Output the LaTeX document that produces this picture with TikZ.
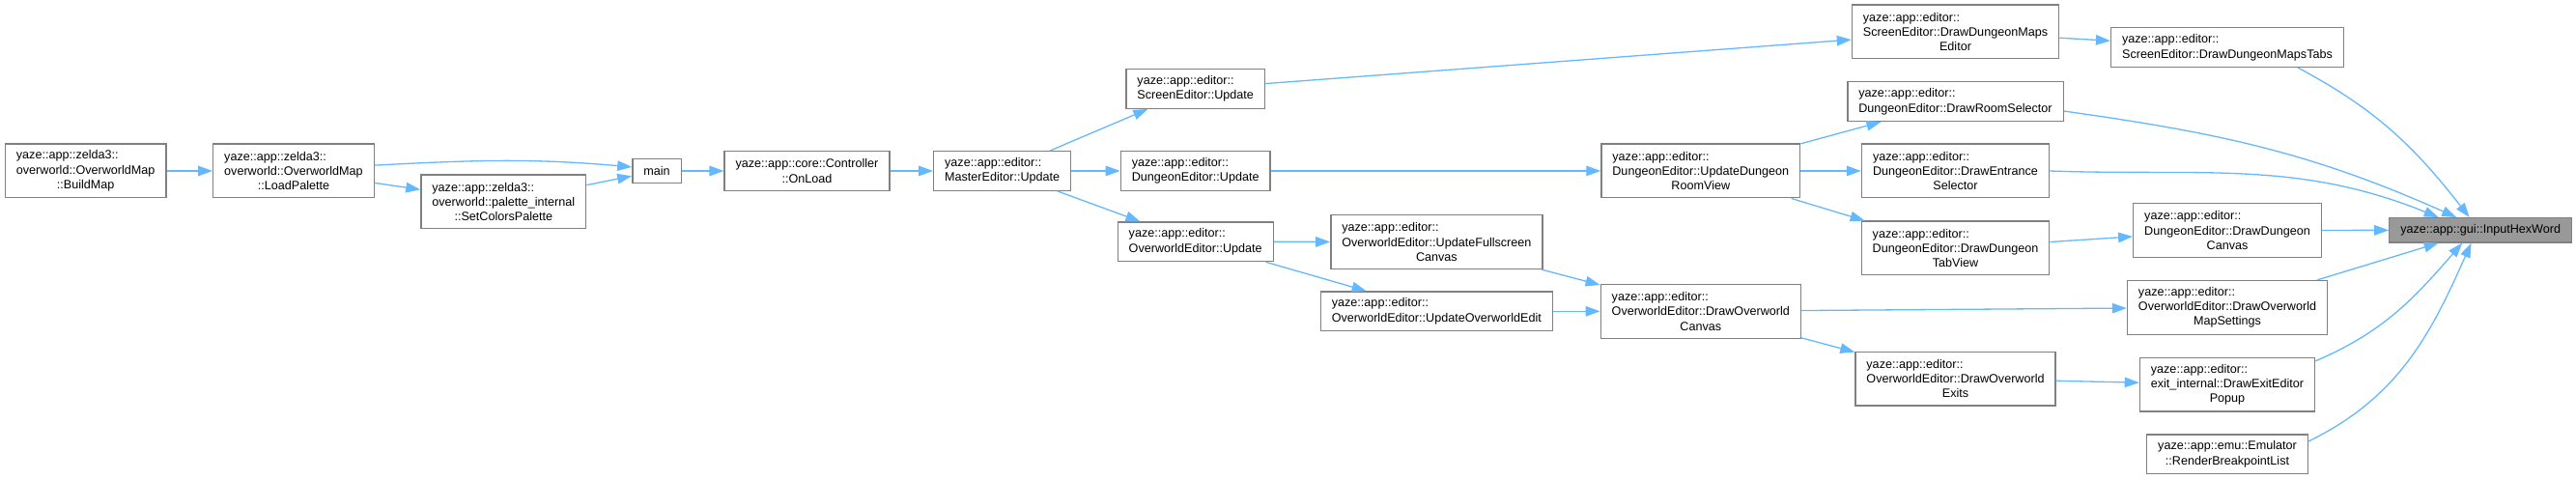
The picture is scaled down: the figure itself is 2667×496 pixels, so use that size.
\documentclass[tikz,border=0pt]{standalone}
\usepackage{fontspec}
\setmainfont{Liberation Sans}
\usetikzlibrary{arrows.meta}
\definecolor{edgecol}{HTML}{63B8FF}
\definecolor{linecol}{HTML}{808080}
\definecolor{focuscol}{HTML}{999999}
\newcommand{\lastln}[1]{\hfill#1\hfill\null}
\begin{document}
\begin{tikzpicture}[x=1pt,y=1pt,
  func/.style={draw=linecol,line width=1.3pt,fill=white,align=left,inner xsep=11.5pt,inner ysep=0pt,minimum height=#1,font=\fontsize{12.6}{15.3}\selectfont},
  func/.default=40.7,
  focus/.style={func=25.3,fill=focuscol},
  call/.style={-{Triangle[length=15pt,width=10.5pt]},draw=edgecol,line width=1.3pt}]
  \useasboundingbox (0,0) rectangle (2667,496);
  \node[func=55.7] (bm) at (88.7,319) {yaze::app::zelda3::\\overworld::OverworldMap\\\lastln{::BuildMap}};
  \node[func=55.7] (lp) at (304,319) {yaze::app::zelda3::\\overworld::OverworldMap\\\lastln{::LoadPalette}};
  \node[func=55.7] (scp) at (521.3,287) {yaze::app::zelda3::\\overworld::palette\_internal\\\lastln{::SetColorsPalette}};
  \node[func=25.3] (main) at (680,319) {main};
  \node[func] (onl) at (835.5,319) {yaze::app::core::Controller\\\lastln{::OnLoad}};
  \node[func] (meu) at (1037.7,319) {yaze::app::editor::\\MasterEditor::Update};
  \node[func] (seu) at (1237.7,404) {yaze::app::editor::\\ScreenEditor::Update};
  \node[func] (deu) at (1237.7,319) {yaze::app::editor::\\DungeonEditor::Update};
  \node[func] (oeu) at (1237.7,245.7) {yaze::app::editor::\\OverworldEditor::Update};
  \node[func=55.7] (ufc) at (1487.4,245.5) {yaze::app::editor::\\OverworldEditor::UpdateFullscreen\\\lastln{Canvas}};
  \node[func] (uoe) at (1487.4,173.7) {yaze::app::editor::\\OverworldEditor::UpdateOverworldEdit};
  \node[func=55.7] (doc) at (1760.8,173.7) {yaze::app::editor::\\OverworldEditor::DrawOverworld\\\lastln{Canvas}};
  \node[func=55.7] (urv) at (1760.8,319) {yaze::app::editor::\\DungeonEditor::UpdateDungeon\\\lastln{RoomView}};
  \node[func=55.7] (ddme) at (2024.5,463) {yaze::app::editor::\\ScreenEditor::DrawDungeonMaps\\\lastln{Editor}};
  \node[func] (drs) at (2024.5,390.8) {yaze::app::editor::\\DungeonEditor::DrawRoomSelector};
  \node[func=55.7] (des) at (2024.5,319) {yaze::app::editor::\\DungeonEditor::DrawEntrance\\\lastln{Selector}};
  \node[func=55.7] (dtv) at (2024.5,239) {yaze::app::editor::\\DungeonEditor::DrawDungeon\\\lastln{TabView}};
  \node[func=55.7] (doe) at (2024.5,104) {yaze::app::editor::\\OverworldEditor::DrawOverworld\\\lastln{Exits}};
  \node[func] (ddmt) at (2306,446.8) {yaze::app::editor::\\ScreenEditor::DrawDungeonMapsTabs};
  \node[func=55.7] (ddc) at (2306,257.5) {yaze::app::editor::\\DungeonEditor::DrawDungeon\\\lastln{Canvas}};
  \node[func=55.7] (doms) at (2306,177.7) {yaze::app::editor::\\OverworldEditor::DrawOverworld\\\lastln{MapSettings}};
  \node[func=55.7] (deep) at (2306,97.8) {yaze::app::editor::\\exit\_internal::DrawExitEditor\\\lastln{Popup}};
  \node[func] (rbl) at (2306,25.7) {yaze::app::emu::Emulator\\\lastln{::RenderBreakpointList}};
  \node[focus] (ihw) at (2568.2,257.7) {yaze::app::gui::InputHexWord};
  \draw[call] (bm) -- (lp);
  \draw[call] (lp.4) to[out=3,in=175] (main.171);
  \draw[call] (lp) -- (scp);
  \draw[call] (scp) -- (main);
  \draw[call] (main) -- (onl);
  \draw[call] (onl) -- (meu);
  \draw[call] (meu) -- (seu);
  \draw[call] (meu) -- (deu);
  \draw[call] (meu) -- (oeu);
  \draw[call] (seu) -- (ddme);
  \draw[call] (deu) -- (urv);
  \draw[call] (oeu) -- (ufc);
  \draw[call] (oeu) -- (uoe);
  \draw[call] (ufc) -- (doc);
  \draw[call] (uoe) -- (doc);
  \draw[call] (urv) -- (drs);
  \draw[call] (urv) -- (des);
  \draw[call] (urv) -- (dtv);
  \draw[call] (doc) -- (doms);
  \draw[call] (doc) -- (doe);
  \draw[call] (ddme) -- (ddmt);
  \draw[call] (dtv) -- (ddc);
  \draw[call] (doe) -- (deep);
  \draw[call] (ddmt.-16) to[out=-28,in=128] (ihw.131);
  \draw[call] (drs.-5) to[out=-8,in=156] (ihw.152);
  \draw[call] (des.east) to[out=-2,in=158] (ihw.163);
  \draw[call] (ddc) -- (ihw);
  \draw[call] (doms) -- (ihw);
  \draw[call] (deep.15) to[out=23,in=-131] (ihw.215);
  \draw[call] (rbl.9) to[out=26,in=-114] (ihw.234);
\end{tikzpicture}
\end{document}
